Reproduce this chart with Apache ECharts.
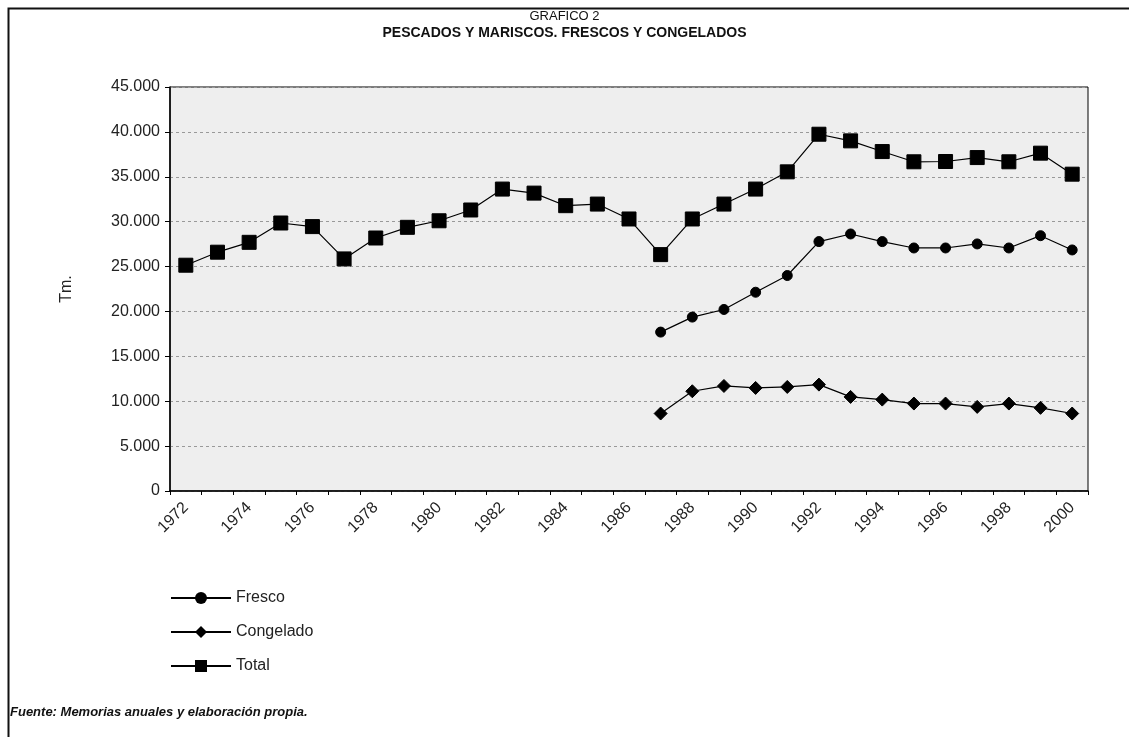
<!DOCTYPE html>
<html>
<head>
    <meta charset="UTF-8">
    <title>GRAFICO 2</title>
    <script src="https://cdn.jsdelivr.net/npm/echarts@6/dist/echarts.min.js"></script>
    <style>
        html, body { margin: 0; padding: 0; background: #fff; }
        #main { width: 1129px; height: 737px; }
    </style>
</head>
<body>
<div id="main"></div>
<script type="text/javascript">
    // categorias (años)
    var years = ['1972', '1973', '1974', '1975', '1976', '1977', '1978', '1979', '1980', '1981',
        '1982', '1983', '1984', '1985', '1986', '1987', '1988', '1989', '1990', '1991',
        '1992', '1993', '1994', '1995', '1996', '1997', '1998', '1999', '2000'];

    // Tm.
    var fresco = [null, null, null, null, null, null, null, null, null, null,
        null, null, null, null, null, 17700, 19370, 20220, 22140, 24000,
        27780, 28630, 27780, 27070, 27070, 27520, 27070, 28440, 26850];
    var congelado = [null, null, null, null, null, null, null, null, null, null,
        null, null, null, null, null, 8630, 11110, 11700, 11480, 11590,
        11850, 10480, 10180, 9740, 9740, 9370, 9740, 9260, 8630];
    var total = [25150, 26600, 27700, 29850, 29450, 25850, 28180, 29370, 30100, 31300,
        33630, 33180, 31780, 31960, 30300, 26330, 30300, 31960, 33630, 35550,
        39740, 39000, 37810, 36670, 36700, 37140, 36670, 37630, 35290];

    var chartDom = document.getElementById('main');
    var myChart = echarts.init(chartDom);
    var option;

    var labelFont = 'Liberation Sans';

    function miles(v) {
        return String(v).replace(/\B(?=(\d{3})+(?!\d))/g, '.');
    }

    function linea(nombre, datos, simbolo, tam) {
        return {
            name: nombre,
            type: 'line',
            data: datos,
            symbol: simbolo,
            symbolSize: tam,
            showAllSymbol: true,
            lineStyle: { color: '#000', width: 1.2 },
            itemStyle: { color: '#000', borderColor: '#000' },
            emphasis: { disabled: true }
        };
    }

    option = {
        animation: false,
        backgroundColor: '#fff',
        title: {
            text: 'GRAFICO 2',
            subtext: 'PESCADOS Y MARISCOS. FRESCOS Y CONGELADOS',
            left: 'center',
            top: 5,
            itemGap: 3,
            textStyle: {
                fontFamily: labelFont,
                fontSize: 13,
                fontWeight: 'normal',
                color: '#111'
            },
            subtextStyle: {
                fontFamily: labelFont,
                fontSize: 14,
                fontWeight: 'bold',
                color: '#111'
            }
        },
        legend: {
            orient: 'vertical',
            left: 165,
            top: 585,
            itemWidth: 60,
            itemHeight: 15,
            itemGap: 18,
            data: ['Fresco', 'Congelado', 'Total'],
            textStyle: { fontFamily: labelFont, fontSize: 16, color: '#222' }
        },
        grid: {
            left: 170,
            right: 41,
            top: 87,
            bottom: 246,
            show: true,
            backgroundColor: '#eeeeee',
            borderColor: '#000',
            borderWidth: 1
        },
        xAxis: {
            type: 'category',
            data: years,
            boundaryGap: true,
            axisLine: { lineStyle: { color: '#000', width: 1.5 } },
            axisTick: { show: true, length: 4, interval: 0, lineStyle: { color: '#000' } },
            axisLabel: {
                interval: 1,
                rotate: 45,
                margin: 14,
                fontFamily: labelFont,
                fontSize: 16,
                color: '#222'
            },
            splitLine: { show: false }
        },
        yAxis: {
            type: 'value',
            min: 0,
            max: 45000,
            interval: 5000,
            name: 'Tm.',
            nameLocation: 'middle',
            nameGap: 95,
            nameRotate: 90,
            nameTextStyle: { fontFamily: labelFont, fontSize: 16, color: '#222' },
            axisLine: { show: true, lineStyle: { color: '#000', width: 1.5 } },
            axisTick: { show: true, length: 5, lineStyle: { color: '#000' } },
            axisLabel: {
                margin: 10,
                fontFamily: labelFont,
                fontSize: 16,
                color: '#222',
                formatter: miles
            },
            splitLine: { show: true, lineStyle: { color: '#999', type: [3, 3], width: 1 } }
        },
        graphic: [
            {
                type: 'rect',
                left: 6,
                top: 6,
                shape: { width: 1140, height: 750 },
                style: { fill: null, stroke: '#111', lineWidth: 2 },
                silent: true,
                z: -10
            },
            {
                type: 'text',
                left: 10,
                top: 706,
                style: {
                    text: 'Fuente: Memorias anuales y elaboración propia.',
                    font: 'italic bold 13px "Liberation Sans"',
                    fill: '#111'
                }
            }
        ],
        series: [
            linea('Fresco', fresco, 'circle', 10),
            linea('Congelado', congelado, 'diamond', 13),
            linea('Total', total, 'rect', 14)
        ]
    };

    option && myChart.setOption(option);
</script>
</body>
</html>
